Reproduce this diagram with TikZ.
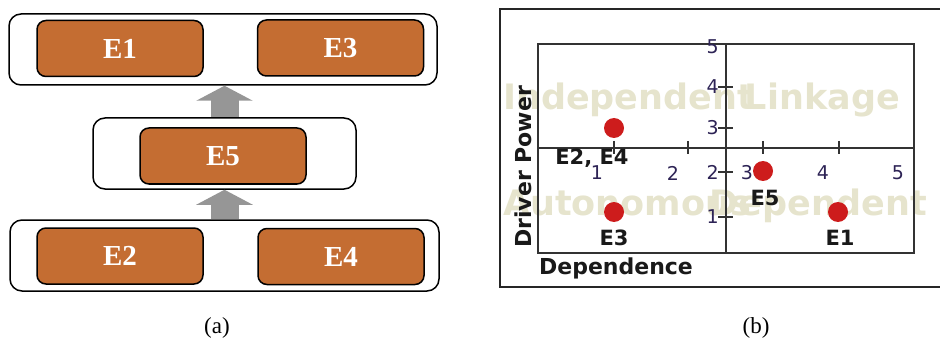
\documentclass[tikz,border=0pt]{standalone}
\usepackage{fontspec}
\setmainfont{Liberation Serif}
\newfontfamily\plotfont{DejaVu Sans}
\usetikzlibrary{arrows.meta,positioning}
\definecolor{boxorange}{RGB}{196,109,50}
\definecolor{upgray}{RGB}{150,150,150}
\definecolor{wmark}{RGB}{230,228,205}
\definecolor{dotred}{RGB}{205,28,28}
\definecolor{ticknavy}{RGB}{45,35,85}

\begin{document}
\begin{tikzpicture}[x=1pt,y=-1pt,
  layer/.style={draw,line width=1.5pt,rounded corners=12pt,minimum height=71pt},
  elem/.style={draw,line width=1.5pt,rounded corners=9pt,fill=boxorange,text=white,
    minimum width=166pt,minimum height=56pt,font=\fontsize{29}{29}\selectfont\bfseries},
  up/.style={upgray,line width=28pt,-{Triangle[length=15pt,width=56pt]}},
  quad/.style={text=wmark,inner sep=0pt,font=\plotfont\fontsize{35}{35}\selectfont\bfseries},
  num/.style={text=ticknavy,inner sep=0pt,font=\plotfont\fontsize{19}{19}\selectfont},
  factor/.style={circle,fill=dotred,minimum size=20pt,inner sep=0pt},
  tag/.style={inner sep=0pt,text=black!90,font=\plotfont\fontsize{21}{21}\selectfont\bfseries}]
  \useasboundingbox (0,0) rectangle (940,350);

  % (a) levels
  \node[layer,minimum width=428pt] (top) at (223,49.5) {};
  \node[elem] (e1box) at (120,48.5) {E1};
  \node[elem] (e3box) at (340.5,48) {E3};
  \node[layer,minimum width=263pt] (mid) at (224.5,153.5) {};
  \node[elem] (e5box) at (223,156) {E5};
  \node[layer,minimum width=429pt] (bot) at (224.5,255.5) {};
  \node[elem] (e2box) at (120,256) {E2};
  \node[elem] (e4box) at (341,256.5) {E4};
  \draw[up] (mid.north) -- (mid.north |- top.south);
  \draw[up] (bot.north) -- (mid.south);
  \node[font=\fontsize{23}{23}\selectfont] (capa) at (217,328) {(a)};

  % (b) driver power / dependence
  \draw[line width=2pt,black!85] (940,9) -- (500,9) -- (500,287) -- (940,287);
  \node[quad,anchor=base west] (indep) at (503,110) {Independent};
  \node[quad,anchor=base east] (link) at (900,110) {Linkage};
  \node[quad,anchor=base west] (auto) at (503,215) {Autonomous};
  \node[quad,anchor=base east] (dep) at (927,215) {Dependent};
  \draw[line width=1.2pt,black!80] (538,44) rectangle (914,253);
  \draw[line width=1.2pt,black!80] (538,148) -- (914,148);
  \draw[line width=1.2pt,black!80] (726,44) -- (726,253);
  \foreach \x in {614,688,763,839}
    \draw[line width=1.2pt,black!80] (\x,141) -- (\x,154);
  \foreach \y in {87,128,172,217}
    \draw[line width=1.2pt,black!80] (718,\y) -- (733,\y);
  \foreach \n/\x in {1/597,2/673,3/747,4/823,5/898}
    \node[num] at (\x,173) {\n};
  \foreach \n/\y in {5/47,4/87,3/128,2/172,1/217}
    \node[num,anchor=east] at (719,\y) {\n};

  \node[factor] (e24) at (614,128) {};
  \node[factor] (e3) at (614,212) {};
  \node[factor] (e5) at (763,171) {};
  \node[factor] (e1) at (838,212) {};
  \node[tag,below=11pt of e24,xshift=-22pt] (e24lbl) {E2, E4};
  \node[tag,below=8pt of e3] (e3lbl) {E3};
  \node[tag,below=9pt of e5,xshift=2pt] (e5lbl) {E5};
  \node[tag,below=8pt of e1,xshift=2pt] (e1lbl) {E1};

  \node[tag,rotate=90,font=\plotfont\fontsize{22}{22}\selectfont\bfseries] (drv) at (523,167) {Driver Power};
  \node[tag,font=\plotfont\fontsize{22}{22}\selectfont\bfseries] (depl) at (616,268) {Dependence};
  \node[font=\fontsize{23}{23}\selectfont] (capb) at (756,328) {(b)};
\end{tikzpicture}
\end{document}
